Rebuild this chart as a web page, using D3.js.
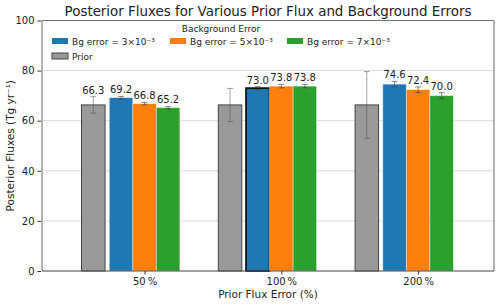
<!DOCTYPE html>
<meta charset="utf-8">
<style>
  body { margin: 0; background: #fff; }
  text { font-family: "DejaVu Sans", sans-serif; fill: #222; }
</style>
<body>
<svg id="chart" width="500" height="304"></svg>
</body>
<script src="https://d3js.org/d3.v7.min.js"></script>
<script>
// values
var categories = ["50\u2009%", "100\u2009%", "200\u2009%"];
var priorValues = [66.3, 66.3, 66.3];
var priorErrors = [3.3, 6.6, 13.3];
var priorLabelled = [true, false, false];
var seriesNames = ["Bg error = 3\u00d710\u207b\u00b3", "Bg error = 5\u00d710\u207b\u00b3", "Bg error = 7\u00d710\u207b\u00b3"];
var seriesValues = [
  [69.2, 73.0, 74.6],
  [66.8, 73.8, 72.4],
  [65.2, 73.8, 70.0]
];
var seriesErrors = [
  [0.5, 0.6, 1.1],
  [0.5, 0.7, 1.1],
  [0.5, 0.7, 1.2]
];
var yTicks = [0, 20, 40, 60, 80, 100];
var colors = ["#1f77b4", "#ff7f0e", "#2ca02c"];
var highlight = {series: 0, cat: 1};

var svg = d3.select("#chart");
var pL = 42, pR = 494, pT = 20.5, pB = 271;

var x = d3.scaleLinear().domain([-0.75, 2.555]).range([pL, pR]);
var y = d3.scaleLinear().domain([0, 100]).range([pB, pT]);
var w = 0.172;
var priorOffset = -0.375;
var offsets = [-w, 0, w];

// grid
svg.append("g").selectAll("line").data(yTicks).enter().append("line")
  .attr("x1", pL).attr("x2", pR)
  .attr("y1", function(d){ return y(d); }).attr("y2", function(d){ return y(d); })
  .attr("stroke", "#dcdcdc").attr("stroke-width", 1);

function errBar(g, cx, v, e, cap, color, op) {
  g.append("line").attr("x1", cx).attr("x2", cx)
    .attr("y1", y(v - e)).attr("y2", y(v + e))
    .attr("stroke", color).attr("stroke-width", 0.9).attr("opacity", op);
  [v - e, v + e].forEach(function(t){
    g.append("line").attr("x1", cx - cap).attr("x2", cx + cap)
      .attr("y1", y(t)).attr("y2", y(t))
      .attr("stroke", color).attr("stroke-width", 0.9).attr("opacity", op);
  });
}

function label(cx, v, e) {
  svg.append("text").attr("x", cx).attr("y", y(v + e) - 3)
    .attr("text-anchor", "middle").attr("font-size", 10)
    .text(v.toFixed(1));
}

var bars = svg.append("g");
// prior bars
categories.forEach(function(c, i){
  var cx = x(i + priorOffset);
  bars.append("rect")
    .attr("x", x(i + priorOffset - w / 2)).attr("width", x(w) - x(0))
    .attr("y", y(priorValues[i])).attr("height", y(0) - y(priorValues[i]))
    .attr("fill", "#999").attr("stroke", "#444").attr("stroke-width", 1);
  errBar(bars, cx, priorValues[i], priorErrors[i], 3, "#555", 0.6);
  if (priorLabelled[i]) label(cx, priorValues[i], priorErrors[i]);
});

// posterior bars
seriesValues.forEach(function(vals, s){
  vals.forEach(function(v, i){
    var hl = (s === highlight.series && i === highlight.cat);
    var cx = x(i + offsets[s]);
    bars.append("rect")
      .attr("x", x(i + offsets[s] - w / 2)).attr("width", x(w) - x(0))
      .attr("y", y(v)).attr("height", y(0) - y(v))
      .attr("fill", colors[s])
      .attr("stroke", hl ? "#111" : "rgba(255,255,255,0.5)")
      .attr("stroke-width", hl ? 1.8 : 0.8);
    errBar(bars, cx, v, seriesErrors[s][i], 3, "#444", 0.7);
    label(cx, v, seriesErrors[s][i]);
  });
});

// spines
svg.append("line").attr("x1", pL).attr("x2", pL).attr("y1", pT).attr("y2", pB)
  .attr("stroke", "#aaa").attr("stroke-width", 1.8);
svg.append("line").attr("x1", pR).attr("x2", pR).attr("y1", pT).attr("y2", pB)
  .attr("stroke", "#666").attr("stroke-width", 1);
svg.append("line").attr("x1", pL).attr("x2", pR).attr("y1", pT).attr("y2", pT)
  .attr("stroke", "#777").attr("stroke-width", 1);
svg.append("line").attr("x1", pL).attr("x2", pR).attr("y1", pB).attr("y2", pB)
  .attr("stroke", "#555").attr("stroke-width", 1);

// axes
var yAxis = svg.append("g").attr("transform", "translate(" + (pL - 1) + ",0)")
  .call(d3.axisLeft(y).tickValues(yTicks).tickSize(3.5).tickPadding(3));
var xAxis = svg.append("g").attr("transform", "translate(0," + pB + ")")
  .call(d3.axisBottom(x).tickValues([0, 1, 2]).tickFormat(function(d){ return categories[d]; })
    .tickSize(3.5).tickPadding(3));
[yAxis, xAxis].forEach(function(a){
  a.select(".domain").remove();
  a.selectAll("text").attr("font-size", 10).attr("font-family", "DejaVu Sans").attr("fill", "#222");
  a.selectAll(".tick line").attr("stroke", "#333");
});

// titles
svg.append("text").attr("x", (pL + pR) / 2).attr("y", 16)
  .attr("text-anchor", "middle").attr("font-size", 13.4)
  .text("Posterior Fluxes for Various Prior Flux and Background Errors");
svg.append("text").attr("x", (pL + pR) / 2).attr("y", 298)
  .attr("text-anchor", "middle").attr("font-size", 10.5)
  .text("Prior Flux Error (%)");
svg.append("text").attr("transform", "translate(14," + ((pT + pB) / 2) + ") rotate(-90)")
  .attr("text-anchor", "middle").attr("font-size", 10.5)
  .text("Posterior Fluxes (Tg yr\u207b\u00b9)");

// legend
var lg = svg.append("g");
lg.append("text").attr("x", 221).attr("y", 32).attr("text-anchor", "middle")
  .attr("font-size", 9).text("Background Error");
var colX = [52, 170, 287];
seriesNames.forEach(function(n, s){
  lg.append("rect").attr("x", colX[s]).attr("y", 38).attr("width", 16).attr("height", 6)
    .attr("fill", colors[s]);
  lg.append("text").attr("x", colX[s] + 20).attr("y", 44.5).attr("font-size", 9).text(n);
});
lg.append("rect").attr("x", 52).attr("y", 53).attr("width", 16).attr("height", 6)
  .attr("fill", "#999").attr("stroke", "#444").attr("stroke-width", 1);
lg.append("text").attr("x", 72).attr("y", 59.5).attr("font-size", 9).text("Prior");
</script>
